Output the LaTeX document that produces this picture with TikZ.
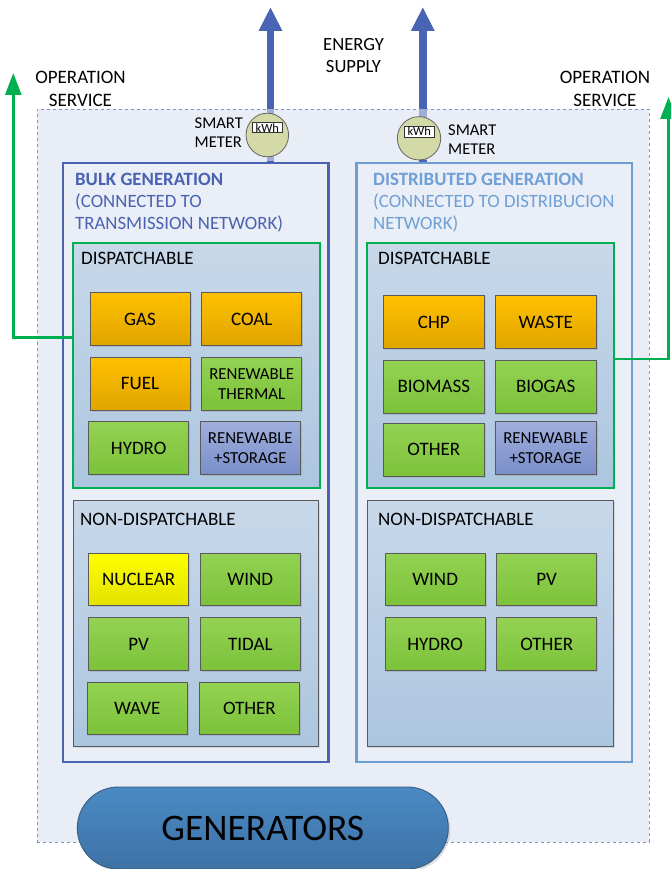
\documentclass[tikz,border=0pt]{standalone}
\usepackage{fontspec}
\setmainfont{Carlito}
\usetikzlibrary{arrows.meta,shapes.geometric,shadows}
\definecolor{bulkblue}{HTML}{4A62B2}
\definecolor{arrowblue}{HTML}{4A64B4}
\definecolor{distblue}{HTML}{6C9FD1}
\definecolor{disttext}{HTML}{6FA0D6}
\definecolor{opgreen}{HTML}{00B050}
\definecolor{bgfill}{HTML}{E9EDF5}
\definecolor{panelfill}{HTML}{EAEEF6}
\definecolor{dashcol}{HTML}{7F93D3}
\definecolor{secTop}{HTML}{C8D8EA}
\definecolor{secBot}{HTML}{ACC6DF}
\definecolor{orTop}{HTML}{FFC000}
\definecolor{orBot}{HTML}{E0A500}
\definecolor{grTop}{HTML}{93D253}
\definecolor{grBot}{HTML}{7CC23A}
\definecolor{yeTop}{HTML}{FFFF00}
\definecolor{yeBot}{HTML}{E2E200}
\definecolor{puTop}{HTML}{9EAEDD}
\definecolor{puBot}{HTML}{7A8EC8}
\definecolor{genTop}{HTML}{4A8AC4}
\definecolor{genBot}{HTML}{3E72A6}
\definecolor{genLine}{HTML}{3A5C82}
\definecolor{meterfill}{HTML}{D3DAA8}
\definecolor{boxline}{HTML}{5A5A5A}
\definecolor{fadeblue}{HTML}{A0AED7}
\newcommand\myfs[2]{\fontsize{#1}{#2}\selectfont}
\begin{document}
\begin{tikzpicture}[x=1pt,y=-1pt,
  lbl/.style={font=\myfs{19}{22}, text=black, inner sep=0pt},
  small/.style={font=\myfs{16.5}{19}, text=black, inner sep=0pt, align=left},
  barrow/.style={draw=arrowblue, line width=7.6pt, -{Triangle[width=22pt,length=24pt]}},
  garrow/.style={draw=opgreen, line width=2.6pt, -{Triangle[width=16pt,length=22pt]}},
  panel/.style={draw, line width=2.5pt, fill=panelfill, inner sep=0pt},
  section/.style={draw, top color=secTop, bottom color=secBot, inner sep=0pt},
  gen/.style={draw=boxline, line width=0.8pt, inner sep=0pt, minimum width=100pt, minimum height=52.6pt,
     font=\myfs{19}{22}, align=center, text=black,
     drop shadow={shadow xshift=1.5pt, shadow yshift=-1.5pt, opacity=0.25}},
  orange/.style={gen, top color=orTop, bottom color=orBot},
  green/.style={gen, top color=grTop, bottom color=grBot},
  yellow/.style={gen, top color=yeTop, bottom color=yeBot},
  purple/.style={gen, top color=puTop, bottom color=puBot},
  two/.style={font=\myfs{16.8}{20}},
  meter/.style={ellipse, draw=gray!80!black, line width=0.8pt, fill=meterfill, inner sep=0pt},
  kwh/.style={draw=black!80, line width=0.7pt, fill=white, inner sep=0pt, font=\myfs{12.5}{13}}
]
\useasboundingbox (0,0) rectangle (671,869);

% background
\node[draw=dashcol, dashed, line width=0.8pt, fill=bgfill, inner sep=0pt,
      minimum width=612pt, minimum height=733pt] (bg) at (343,475.5) {};

% panels
\node[panel, draw=bulkblue, minimum width=265.6pt, minimum height=598.7pt] (bulk) at (195.8,462.4) {};
\node[panel, draw=distblue, minimum width=275.6pt, minimum height=599pt] (dist) at (494.2,462.5) {};

% energy supply arrows
\coordinate (esL) at (270.5,7);
\coordinate (esR) at (422.8,7);
\draw[barrow] (bulk.north -| esL) -- (esL);
\draw[barrow] (dist.north -| esR) -- (esR);
\draw[draw=fadeblue, line width=7.6pt] ([yshift=1.25pt]bulk.north -| esL) -- ([yshift=-0.4pt]esL |- bg.north);
\draw[draw=fadeblue, line width=7.6pt] ([yshift=1.25pt]dist.north -| esR) -- ([yshift=-0.4pt]esR |- bg.north);

% titles
\node[lbl, anchor=west, align=left, text=bulkblue, font=\myfs{18.8}{22}] (tb) at (75,203)
  {\textbf{BULK GENERATION}\\(CONNECTED TO\\TRANSMISSION NETWORK)};
\node[lbl, anchor=west, align=left, text=disttext, font=\myfs{18.8}{22}] (td) at (373,203)
  {\textbf{DISTRIBUTED GENERATION}\\(CONNECTED TO DISTRIBUCION\\NETWORK)};

% meters
\node[meter, minimum width=42.6pt, minimum height=43.6pt] (mL) at (267.3,135) {};
\node[kwh, minimum width=29.3pt, minimum height=10pt] (kL) at (267.3,127.7) {kWh};
\node[meter, minimum width=43.4pt, minimum height=43.3pt] (mR) at (419,138.3) {};
\node[kwh, minimum width=29.7pt, minimum height=11.3pt] (kR) at (419.2,131.6) {kWh};
\node[small, anchor=east] (smL) at (243,132.5) {SMART\\METER};
\node[small, anchor=west] (smR) at (448,139.5) {SMART\\METER};

% top labels
\node[lbl, align=center, font=\myfs{18.6}{22}] (es) at (353.5,56) {ENERGY\\SUPPLY};
\node[lbl, align=center, font=\myfs{19}{23}] (osL) at (80.5,88.5) {OPERATION\\SERVICE};
\node[lbl, align=center, font=\myfs{19}{23}] (osR) at (605,88.5) {OPERATION\\SERVICE};

% sections
\node[section, draw=opgreen, line width=2pt, minimum width=247pt, minimum height=244.7pt] (dL) at (196.2,365.7) {};
\node[section, draw=opgreen, line width=2pt, minimum width=247.3pt, minimum height=245pt] (dR) at (490.3,365.5) {};
\node[section, draw=boxline, line width=0.9pt, minimum width=245.2pt, minimum height=246pt,
      drop shadow={shadow xshift=1.5pt, shadow yshift=-1.5pt, opacity=0.2}] (nL) at (195.8,623.7) {};
\node[section, draw=boxline, line width=0.9pt, minimum width=245.6pt, minimum height=246pt,
      drop shadow={shadow xshift=1.5pt, shadow yshift=-1.5pt, opacity=0.2}] (nR) at (490.4,623.7) {};
\node[lbl, anchor=west] (ldL) at (81,258) {DISPATCHABLE};
\node[lbl, anchor=west] (ldR) at (378,258.5) {DISPATCHABLE};
\node[lbl, anchor=west] (lnL) at (80,519) {NON-DISPATCHABLE};
\node[lbl, anchor=west] (lnR) at (378,519) {NON-DISPATCHABLE};

% operation service arrows
\coordinate (opL) at (13.3,73);
\coordinate (opR) at (668.5,97);
\draw[garrow] ([yshift=28.5pt]dL.west) -| (opL);
\draw[garrow] ([yshift=6.5pt]dR.east) -| (opR);

% bulk dispatchable
\node[orange] (gas) at (140,319) {GAS};
\node[orange] (coal) at (251.7,319) {COAL};
\node[orange] (fuel) at (140,383.7) {FUEL};
\node[green, two] (rth) at (251.7,383.7) {RENEWABLE\\THERMAL};
\node[green] (hyd1) at (138.7,448) {HYDRO};
\node[purple, two] (rst1) at (250.3,448) {RENEWABLE\\+STORAGE};

% distributed dispatchable
\node[orange, minimum width=101pt] (chp) at (433.8,322) {CHP};
\node[orange, minimum width=101pt] (waste) at (545.7,322) {WASTE};
\node[green, minimum width=101pt] (biom) at (433.8,386.7) {BIOMASS};
\node[green, minimum width=101pt] (biog) at (545.7,386.7) {BIOGAS};
\node[green, minimum width=101pt] (oth1) at (433.8,449.8) {OTHER};
\node[purple, two, minimum width=101pt] (rst2) at (545.7,448) {RENEWABLE\\+STORAGE};

% bulk non-dispatchable
\node[yellow] (nuc) at (138.6,579.5) {NUCLEAR};
\node[green] (wind1) at (250.3,579.5) {WIND};
\node[green] (pv1) at (138.6,644) {PV};
\node[green] (tidal) at (250.3,644) {TIDAL};
\node[green] (wave) at (137.3,708.3) {WAVE};
\node[green] (oth2) at (249.4,708.3) {OTHER};

% distributed non-dispatchable
\node[green] (wind2) at (435.1,579.5) {WIND};
\node[green] (pv2) at (546.7,579.5) {PV};
\node[green] (hyd2) at (435.1,644) {HYDRO};
\node[green] (oth3) at (546.7,644) {OTHER};

% generators
\node[draw=genLine, line width=0.9pt, top color=genTop, bottom color=genBot, rounded corners=41pt,
      minimum width=371pt, minimum height=82pt, inner sep=0pt, font=\myfs{37.5}{40}, text=black,
      drop shadow={shadow xshift=2pt, shadow yshift=-2pt, opacity=0.25}] (gens) at (262.8,828) {GENERATORS};
\end{tikzpicture}
\end{document}
